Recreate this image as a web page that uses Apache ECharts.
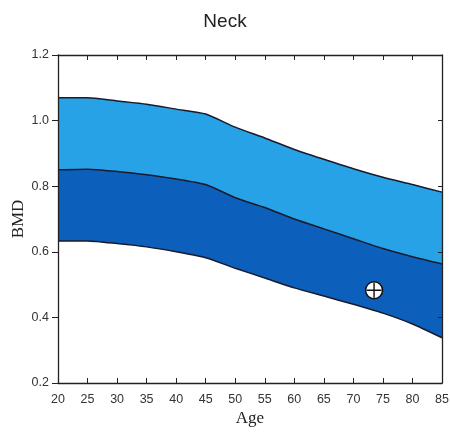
<!DOCTYPE html>
<html>
<head>
<meta charset="utf-8">
<script src="https://cdn.jsdelivr.net/npm/echarts@6/dist/echarts.min.js"></script>
<style>html,body{margin:0;padding:0;background:#fff;}#c{width:450px;height:439px;}</style>
</head>
<body>
<div id="c"></div>
<script>
const ages  = [20, 25, 30, 35, 40, 45, 50, 55, 60, 65, 70, 75, 80, 85];
const lower = [0.633, 0.633, 0.625, 0.615, 0.600, 0.582, 0.550, 0.520, 0.490, 0.465, 0.440, 0.413, 0.380, 0.338];
const mid   = [0.850, 0.852, 0.845, 0.835, 0.822, 0.805, 0.765, 0.735, 0.700, 0.670, 0.640, 0.610, 0.585, 0.563];
const upper = [1.070, 1.070, 1.060, 1.050, 1.035, 1.020, 0.980, 0.947, 0.912, 0.882, 0.853, 0.827, 0.805, 0.782];
const patient = [[73.5, 0.483]];
const xTicks = [20, 85, 5];
const yTicks = [0.2, 1.2, 0.2];

const pairs = (arr) => ages.map((a, i) => [a, arr[i]]);
const lineStyle = {color: '#1a1a2a', width: 1.5};
const tickFont = {fontFamily: 'Liberation Sans, Arial', fontSize: 12.5, color: '#333'};

const chart = echarts.init(document.getElementById('c'));
chart.setOption({
  animation: false,
  title: {text: 'Neck', left: 'center', top: 7, textStyle: {fontFamily: 'Liberation Sans, Arial', fontSize: 19, fontWeight: 'normal', color: '#222'}},
  grid: {left: 58, right: 8, top: 55, bottom: 56, containLabel: false, outerBoundsMode: 'none'},
  xAxis: [
    {type: 'value', min: xTicks[0], max: xTicks[1], interval: xTicks[2], position: 'bottom', z: 10,
     name: 'Age', nameLocation: 'middle', nameGap: 27, nameMoveOverlap: false,
     nameTextStyle: {fontFamily: 'Liberation Serif, Times New Roman', fontSize: 17, color: '#222'},
     axisLine: {lineStyle: {color: '#222', width: 1.3}},
     axisTick: {inside: true, length: 5, lineStyle: {color: '#222'}},
     axisLabel: Object.assign({margin: 10}, tickFont),
     splitLine: {show: false}},
    {type: 'value', min: xTicks[0], max: xTicks[1], interval: xTicks[2], position: 'top', z: 10,
     axisLine: {lineStyle: {color: '#222', width: 1.3}},
     axisTick: {inside: true, length: 5, lineStyle: {color: '#222'}},
     axisLabel: {show: false}, splitLine: {show: false}}
  ],
  yAxis: [
    {type: 'value', min: yTicks[0], max: yTicks[1], interval: yTicks[2], position: 'left', z: 10,
     name: 'BMD', nameLocation: 'middle', nameGap: 31, nameMoveOverlap: false,
     nameTextStyle: {fontFamily: 'Liberation Serif, Times New Roman', fontSize: 17, color: '#222'},
     axisLine: {show: true, lineStyle: {color: '#222', width: 1.3}},
     axisTick: {show: true, inside: false, length: 6, lineStyle: {color: '#222'}},
     axisLabel: Object.assign({margin: 9, formatter: v => v.toFixed(1)}, tickFont),
     splitLine: {show: false}},
    {type: 'value', min: yTicks[0], max: yTicks[1], interval: yTicks[2], position: 'right', z: 10,
     axisLine: {show: true, lineStyle: {color: '#222', width: 1.3}},
     axisTick: {show: true, inside: true, length: 4, lineStyle: {color: '#222'}},
     axisLabel: {show: false}, splitLine: {show: false}}
  ],
  series: [
    {type: 'line', data: pairs(upper), symbol: 'none', smooth: 0.2, lineStyle: lineStyle,
     areaStyle: {color: '#28a2e6', opacity: 1, origin: 'start'}, z: 2},
    {type: 'line', data: pairs(mid), symbol: 'none', smooth: 0.2, lineStyle: lineStyle,
     areaStyle: {color: '#0c60bc', opacity: 1, origin: 'start'}, z: 3},
    {type: 'line', data: pairs(lower), symbol: 'none', smooth: 0.2, lineStyle: lineStyle,
     areaStyle: {color: '#ffffff', opacity: 1, origin: 'start'}, z: 4},
    {type: 'scatter', data: patient, symbol: 'circle', symbolSize: 17,
     itemStyle: {color: '#fff', borderColor: '#111', borderWidth: 1.5, opacity: 1}, z: 5},
    {type: 'scatter', data: patient, symbol: 'path://M-1,0L1,0M0,-1L0,1', symbolSize: 15,
     itemStyle: {color: 'none', borderColor: '#111', borderWidth: 1.4, opacity: 1}, z: 6}
  ]
});
</script>
</body>
</html>
